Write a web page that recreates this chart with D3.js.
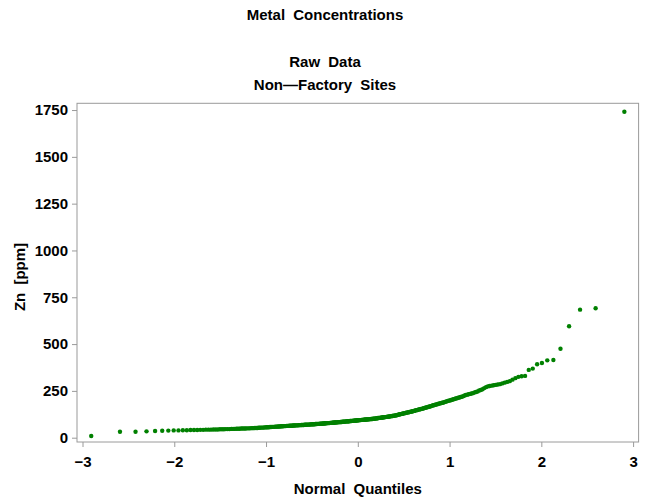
<!DOCTYPE html>
<html>
<head>
<meta charset="utf-8">
<script src="https://cdn.jsdelivr.net/npm/d3@7"></script>
<style>
  html, body { margin: 0; padding: 0; background: #fff; }
  svg text { font-family: "Liberation Sans", Arial, Helvetica, sans-serif; font-weight: bold; fill: #000; }
</style>
</head>
<body>
<svg id="chart" width="650" height="504"></svg>
<script>
// Titles
const titleMain = "Metal Concentrations";
const titleSub = ["Raw Data", "Non\u2014Factory Sites"];
const xLabel = "Normal Quantiles";
const yLabel = "Zn [ppm]";

// Axis ticks
const xTicks = [-3, -2, -1, 0, 1, 2, 3];
const yTicks = [0, 250, 500, 750, 1000, 1250, 1500, 1750];

// Zn concentrations (ppm) at non-factory sites, sorted ascending
const znValues = [
  9, 32, 32, 34, 36, 37, 38, 39, 39, 40,
  40, 41, 41, 41, 42, 42, 43, 43, 43, 44,
  44, 44, 45, 45, 45, 46, 46, 46, 47, 47,
  47, 48, 48, 48, 49, 49, 49, 49, 50, 50,
  50, 51, 51, 51, 52, 52, 52, 53, 53, 54,
  54, 54, 55, 55, 56, 56, 56, 57, 57, 58,
  58, 58, 59, 59, 59, 60, 60, 60, 61, 61,
  61, 62, 62, 62, 63, 63, 63, 64, 64, 64,
  64, 65, 65, 65, 66, 66, 66, 66, 67, 67,
  67, 68, 68, 68, 68, 69, 69, 69, 70, 70,
  70, 70, 71, 71, 71, 72, 72, 72, 72, 73,
  73, 73, 74, 74, 74, 75, 75, 75, 75, 76,
  76, 76, 77, 77, 77, 78, 78, 78, 78, 79,
  79, 79, 80, 80, 80, 81, 81, 81, 82, 82,
  82, 83, 83, 83, 84, 84, 84, 85, 85, 86,
  86, 86, 87, 87, 87, 88, 88, 88, 89, 89,
  89, 90, 90, 91, 91, 91, 92, 92, 92, 93,
  93, 93, 94, 94, 94, 95, 95, 95, 96, 96,
  96, 97, 97, 97, 98, 98, 98, 99, 99, 100,
  100, 100, 101, 101, 102, 102, 103, 103, 104, 105,
  105, 106, 106, 107, 107, 108, 108, 109, 109, 110,
  110, 111, 111, 112, 112, 113, 114, 114, 115, 116,
  116, 117, 118, 118, 119, 120, 121, 122, 123, 125,
  125, 126, 127, 128, 129, 130, 131, 132, 133, 134,
  135, 136, 137, 138, 139, 140, 141, 142, 143, 145,
  146, 147, 148, 150, 151, 152, 153, 154, 155, 157,
  158, 160, 161, 162, 164, 165, 167, 168, 170, 172,
  173, 175, 176, 178, 179, 181, 182, 184, 185, 187,
  188, 190, 192, 194, 196, 198, 199, 201, 203, 205,
  207, 209, 211, 213, 215, 217, 219, 222, 225, 228,
  230, 232, 234, 236, 238, 242, 244, 247, 252, 255,
  259, 265, 270, 274, 276, 278, 280, 282, 284, 286,
  290, 294, 298, 302, 310, 318, 325, 328, 330, 362,
  369, 392, 399, 413, 415, 475, 595, 684, 691, 1741
];

// Inverse standard normal CDF (Acklam's rational approximation)
function normInv(p) {
  const a = [-3.969683028665376e+01, 2.209460984245205e+02, -2.759285104469687e+02,
             1.383577518672690e+02, -3.066479806614716e+01, 2.506628277459239e+00];
  const b = [-5.447609879822406e+01, 1.615858368580409e+02, -1.556989798598866e+02,
             6.680131188771972e+01, -1.328068155288572e+01];
  const c = [-7.784894002430293e-03, -3.223964580411365e-01, -2.400758277161838e+00,
             -2.549732539343734e+00, 4.374664141464968e+00, 2.938163982698783e+00];
  const d = [7.784695709041462e-03, 3.224671290700398e-01, 2.445134137142996e+00,
             3.754408661907416e+00];
  const pl = 0.02425, ph = 1 - pl;
  let q, r;
  if (p < pl) {
    q = Math.sqrt(-2 * Math.log(p));
    return (((((c[0]*q+c[1])*q+c[2])*q+c[3])*q+c[4])*q+c[5]) /
           ((((d[0]*q+d[1])*q+d[2])*q+d[3])*q+1);
  }
  if (p <= ph) {
    q = p - 0.5; r = q * q;
    return (((((a[0]*r+a[1])*r+a[2])*r+a[3])*r+a[4])*r+a[5])*q /
           (((((b[0]*r+b[1])*r+b[2])*r+b[3])*r+b[4])*r+1);
  }
  q = Math.sqrt(-2 * Math.log(1 - p));
  return -(((((c[0]*q+c[1])*q+c[2])*q+c[3])*q+c[4])*q+c[5]) /
          ((((d[0]*q+d[1])*q+d[2])*q+d[3])*q+1);
}

// Blom plotting positions for the normal Q-Q plot
const n = znValues.length;
const points = znValues.map((v, i) => ({
  q: normInv((i + 1 - 0.375) / (n + 0.25)),
  v: v
}));

const svg = d3.select("#chart");
const frame = { left: 77, right: 638.6, top: 103.3, bottom: 442 };
const axisColor = "#9a9a9a";
const fontSize = 15;

const x = d3.scaleLinear().domain([-3.06, 3.06]).range([frame.left, frame.right]);
const y = d3.scaleLinear().domain([-23, 1786]).range([frame.bottom, frame.top]);

// Titles
svg.append("text").attr("x", 325).attr("y", 20).attr("text-anchor", "middle")
  .attr("font-size", fontSize).attr("word-spacing", 4).text(titleMain);
svg.selectAll("text.sub").data(titleSub).join("text").attr("class", "sub")
  .attr("x", 325).attr("y", (d, i) => 67 + i * 23).attr("text-anchor", "middle")
  .attr("font-size", fontSize).attr("word-spacing", 4).text(d => d);

// Axes
const xAxis = d3.axisBottom(x).tickValues(xTicks).tickSizeInner(5).tickSizeOuter(0)
  .tickPadding(9).tickFormat(d => d < 0 ? "\u2212" + Math.abs(d) : String(d));
const yAxis = d3.axisLeft(y).tickValues(yTicks).tickSizeInner(5).tickSizeOuter(0)
  .tickPadding(4).tickFormat(d3.format("d"));

const gx = svg.append("g").attr("transform", `translate(0,${frame.bottom})`).call(xAxis);
const gy = svg.append("g").attr("transform", `translate(${frame.left},0)`).call(yAxis);
[gx, gy].forEach(g => {
  g.select(".domain").remove();
  g.selectAll(".tick line").attr("stroke", axisColor);
  g.selectAll(".tick text").attr("font-size", fontSize).attr("fill", "#000")
    .style("font-family", '"Liberation Sans", Arial, Helvetica, sans-serif')
    .style("font-weight", "bold");
});

// Plot frame
svg.append("rect")
  .attr("x", frame.left).attr("y", frame.top)
  .attr("width", frame.right - frame.left).attr("height", frame.bottom - frame.top)
  .attr("fill", "none").attr("stroke", axisColor).attr("stroke-width", 1);

// Axis labels
svg.append("text").attr("x", x(0)).attr("y", 494).attr("text-anchor", "middle")
  .attr("font-size", fontSize).attr("word-spacing", 4).text(xLabel);
svg.append("text").attr("transform", "translate(25,277) rotate(-90)")
  .attr("text-anchor", "middle").attr("font-size", fontSize).attr("word-spacing", 4).text(yLabel);

// Points
svg.append("g").selectAll("circle").data(points).join("circle")
  .attr("cx", d => x(d.q)).attr("cy", d => y(d.v)).attr("r", 2.2)
  .attr("fill", "#008000");
</script>
</body>
</html>
